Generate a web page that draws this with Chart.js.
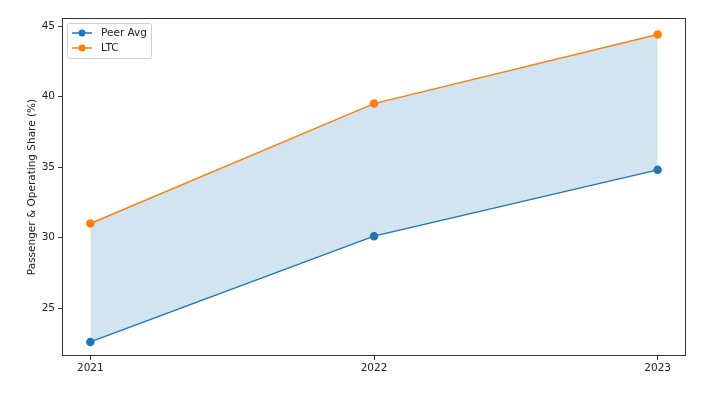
<!DOCTYPE html>
<html>
<head>
<meta charset="utf-8">
<script src="https://cdn.jsdelivr.net/npm/chart.js@4/dist/chart.umd.min.js"></script>
<style>
  body { margin: 0; background: #fff; }
  #wrap { width: 703px; height: 400px; }
</style>
</head>
<body>
<div id="wrap"><canvas id="chart"></canvas></div>
<script>
const years = [2021, 2022, 2023];
const peerAvg = [22.6, 30.1, 34.8];
const ltc = [31.0, 39.5, 44.4];
const yTicks = [25, 30, 35, 40, 45];
const seriesNames = ['Peer Avg', 'LTC'];
const yTitle = 'Passenger & Operating Share (%)';

const blue = '#1f77b4';
const orange = '#ff7f0e';
const font = 'DejaVu Sans';
const fs = 10.5;

// matplotlib style frame + legend inside the axes
const frameAndLegend = {
  id: 'frameAndLegend',
  afterDraw(chart) {
    const { ctx, chartArea: a } = chart;
    ctx.save();
    ctx.strokeStyle = '#333';
    ctx.lineWidth = 1;
    ctx.strokeRect(a.left + 0.5, a.top + 0.5, a.right - a.left - 1, a.bottom - a.top - 1);

    const bx = a.left + 5, by = a.top + 5, bw = 84, bh = 35;
    ctx.fillStyle = 'rgba(255,255,255,0.8)';
    ctx.strokeStyle = '#d0d0d0';
    ctx.beginPath();
    ctx.roundRect(bx + 0.5, by + 0.5, bw, bh, 2);
    ctx.fill();
    ctx.stroke();

    const colors = [blue, orange];
    ctx.font = fs + 'px ' + font;
    ctx.textBaseline = 'middle';
    seriesNames.forEach((name, i) => {
      const y = by + 10 + i * 15;
      ctx.strokeStyle = colors[i];
      ctx.lineWidth = 1.5;
      ctx.beginPath();
      ctx.moveTo(bx + 5, y);
      ctx.lineTo(bx + 25, y);
      ctx.stroke();
      ctx.fillStyle = colors[i];
      ctx.beginPath();
      ctx.arc(bx + 15, y, 3.5, 0, Math.PI * 2);
      ctx.fill();
      ctx.fillStyle = '#222';
      ctx.fillText(name, bx + 34, y + 0.5);
    });
    ctx.restore();
  }
};

new Chart(document.getElementById('chart'), {
  type: 'line',
  data: {
    datasets: [
      {
        label: seriesNames[0],
        data: years.map((x, i) => ({ x, y: peerAvg[i] })),
        borderColor: blue,
        backgroundColor: blue,
        borderWidth: 1.5,
        pointRadius: 3.5,
        pointHoverRadius: 3.5,
        fill: false
      },
      {
        label: seriesNames[1],
        data: years.map((x, i) => ({ x, y: ltc[i] })),
        borderColor: orange,
        backgroundColor: orange,
        borderWidth: 1.5,
        pointRadius: 3.5,
        pointHoverRadius: 3.5,
        fill: { target: 0, above: 'rgba(31,119,180,0.2)', below: 'rgba(31,119,180,0.2)' }
      }
    ]
  },
  options: {
    responsive: true,
    maintainAspectRatio: false,
    animation: false,
    layout: { padding: { top: 18, right: 17, left: 26, bottom: 0 } },
    plugins: {
      legend: { display: false },
      tooltip: { enabled: false }
    },
    scales: {
      x: {
        type: 'linear',
        min: 2020.9,
        max: 2023.1,
        afterBuildTicks: s => { s.ticks = years.map(v => ({ value: v })); },
        afterFit: s => { s.height = 44; },
        grid: { drawOnChartArea: false, drawTicks: true, tickLength: 4, color: '#333' },
        border: { display: false },
        ticks: {
          color: '#222',
          font: { family: font, size: fs },
          padding: 2,
          maxRotation: 0,
          callback: v => String(v)
        }
      },
      y: {
        min: 21.6,
        max: 45.57,
        afterBuildTicks: s => { s.ticks = yTicks.map(v => ({ value: v })); },
        afterFit: s => { s.width = 36; },
        grid: { drawOnChartArea: false, drawTicks: true, tickLength: 4, color: '#333' },
        border: { display: false },
        title: {
          display: true,
          text: yTitle,
          color: '#222',
          font: { family: font, size: fs },
          padding: { top: 0, bottom: 0 }
        },
        ticks: {
          color: '#222',
          font: { family: font, size: fs },
          padding: 3
        }
      }
    }
  },
  plugins: [frameAndLegend]
});
</script>
</body>
</html>
